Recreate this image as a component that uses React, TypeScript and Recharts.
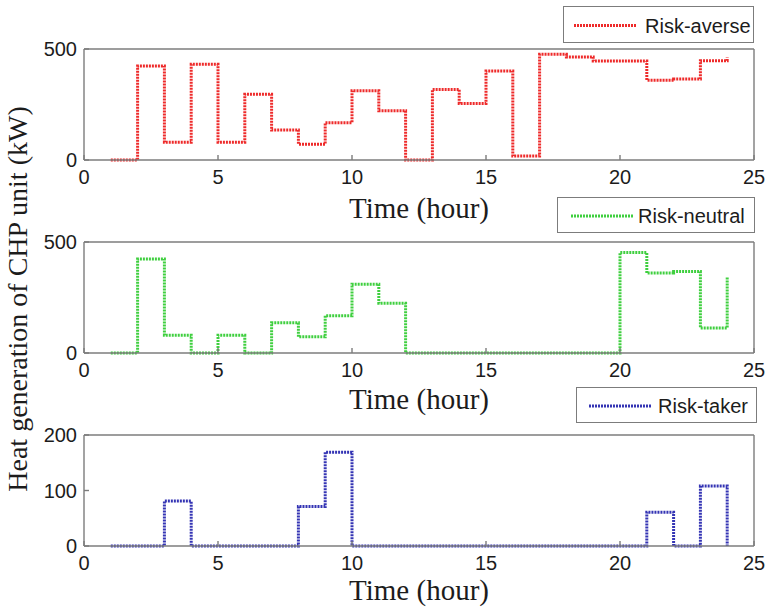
import React from 'react';
import { LineChart, Line, XAxis, YAxis, Legend } from 'recharts';

const hours = [1, 2, 3, 4, 5, 6, 7, 8, 9, 10, 11, 12, 13, 14, 15, 16, 17, 18, 19, 20, 21, 22, 23, 24];
const riskAverse = [0, 423, 80, 431, 80, 296, 135, 71, 168, 312, 222, 0, 318, 255, 401, 18, 476, 464, 446, 446, 359, 365, 447, 462];
const riskNeutral = [0, 423, 80, 0, 80, 0, 136, 73, 168, 310, 224, 0, 0, 0, 0, 0, 0, 0, 0, 453, 360, 367, 113, 344];
const riskTaker = [0, 0, 81, 0, 0, 0, 0, 71, 169, 0, 0, 0, 0, 0, 0, 0, 0, 0, 0, 0, 61, 0, 108, 0];

const xTicks = [0, 5, 10, 15, 20, 25];
const yTicksAverse = [0, 500];
const yTicksNeutral = [0, 500];
const yTicksTaker = [0, 100, 200];
const seriesNames = ['Risk-averse', 'Risk-neutral', 'Risk-taker'];
const seriesColors = ['#ee2a2a', '#3fcf3f', '#3434b4'];
const xTitle = 'Time (hour)';
const yTitle = 'Heat generation of CHP unit (kW)';

const SANS = '"Liberation Sans", Arial, sans-serif';
const SERIF = '"Liberation Serif", "Times New Roman", serif';
const AXIS = '#7c7c7c';
const TEXT = '#1c1c1c';
const DASH = '2 1';

type PanelProps = {
  top: number;
  height: number;
  plotTop: number;
  plotBottom: number;
  values: number[];
  name: string;
  color: string;
  yMax: number;
  yTicks: number[];
  legendBox: { left: number; top: number; width: number; height: number; lineStart: number; lineLen: number; textStart: number };
  titleOffset: number;
};

const PLOT_LEFT = 84;
const PLOT_RIGHT = 754;

function Panel(p: PanelProps) {
  const data = hours.map((t, i) => ({ t, v: p.values[i] }));
  const lb = p.legendBox;
  // axes are 1px thick so that they render; margins compensate
  const margin = {
    top: p.plotTop - 1,
    bottom: p.height - p.plotBottom - 1,
    left: PLOT_LEFT - 1,
    right: 769 - PLOT_RIGHT - 1,
  };
  const renderLegend = () => (
    <div
      style={{
        position: 'relative',
        width: lb.width,
        height: lb.height,
        boxSizing: 'border-box',
        border: `1.5px solid ${AXIS}`,
        background: '#fff',
      }}
    >
      <svg width={lb.width} height={lb.height} style={{ position: 'absolute', left: 0, top: 0 }}>
        <line
          x1={lb.lineStart}
          x2={lb.lineStart + lb.lineLen}
          y1={lb.height / 2}
          y2={lb.height / 2}
          stroke={p.color}
          strokeWidth={3}
          strokeDasharray={DASH}
        />
        <text
          x={lb.textStart}
          y={lb.height / 2}
          dominantBaseline="central"
          fontSize={20}
          fontFamily={SANS}
          fill={TEXT}
        >
          {p.name}
        </text>
      </svg>
    </div>
  );
  const tickStyle = { fontSize: 20, fill: TEXT, fontFamily: SANS };
  return (
    <div style={{ position: 'absolute', left: 0, top: p.top }}>
      <LineChart width={769} height={p.height} data={data} margin={margin}>
        <XAxis
          dataKey="t"
          type="number"
          domain={[0, 25]}
          ticks={xTicks}
          interval={0}
          height={1}
          tickSize={-5}
          tickMargin={15}
          tick={tickStyle}
          axisLine={{ stroke: AXIS, strokeWidth: 1.4 }}
          tickLine={{ stroke: AXIS, strokeWidth: 1.4 }}
          label={{
            value: xTitle,
            position: 'bottom',
            offset: p.titleOffset - 1,
            style: { fontSize: 29, fontFamily: SERIF, fill: TEXT },
          }}
        />
        <XAxis
          xAxisId="top"
          orientation="top"
          dataKey="t"
          type="number"
          domain={[0, 25]}
          ticks={xTicks}
          interval={0}
          height={1}
          tickSize={-5}
          tick={false}
          axisLine={{ stroke: AXIS, strokeWidth: 1.4 }}
          tickLine={{ stroke: AXIS, strokeWidth: 1.4 }}
        />
        <YAxis
          type="number"
          domain={[0, p.yMax]}
          ticks={p.yTicks}
          interval={0}
          width={1}
          tickSize={-5}
          tickMargin={12}
          tick={tickStyle}
          axisLine={{ stroke: AXIS, strokeWidth: 1.4 }}
          tickLine={{ stroke: AXIS, strokeWidth: 1.4 }}
        />
        <YAxis
          yAxisId="right"
          orientation="right"
          type="number"
          domain={[0, p.yMax]}
          ticks={p.yTicks}
          interval={0}
          width={1}
          tickSize={-5}
          tick={false}
          axisLine={{ stroke: AXIS, strokeWidth: 1.4 }}
          tickLine={{ stroke: AXIS, strokeWidth: 1.4 }}
        />
        <Legend
          layout="vertical"
          align="center"
          verticalAlign="middle"
          content={renderLegend}
          wrapperStyle={{ position: 'absolute', left: lb.left, top: lb.top, width: lb.width, height: lb.height }}
        />
        <Line
          type="stepAfter"
          dataKey="v"
          name={p.name}
          stroke={p.color}
          strokeWidth={3}
          strokeDasharray={DASH}
          dot={false}
          activeDot={false}
          isAnimationActive={false}
        />
      </LineChart>
    </div>
  );
}

export default function App() {
  return (
    <div style={{ position: 'absolute', left: 0, top: 0, width: 769, height: 612, background: '#fff', overflow: 'hidden' }}>
      <svg width={60} height={612} style={{ position: 'absolute', left: 0, top: 0 }}>
        <text
          x={27}
          y={299}
          transform="rotate(-90 27 299)"
          textAnchor="middle"
          fontSize={28}
          fontFamily={SERIF}
          fill={TEXT}
        >
          {yTitle}
        </text>
      </svg>
      <Panel
        top={0}
        height={235}
        plotTop={49}
        plotBottom={160}
        values={riskAverse}
        name={seriesNames[0]}
        color={seriesColors[0]}
        yMax={500}
        yTicks={yTicksAverse}
        legendBox={{ left: 563, top: 6, width: 191, height: 37, lineStart: 10, lineLen: 63, textStart: 81 }}
        titleOffset={37}
      />
      <Panel
        top={190}
        height={235}
        plotTop={52}
        plotBottom={163}
        values={riskNeutral}
        name={seriesNames[1]}
        color={seriesColors[1]}
        yMax={500}
        yTicks={yTicksNeutral}
        legendBox={{ left: 557, top: 7, width: 198, height: 36, lineStart: 13, lineLen: 62, textStart: 80 }}
        titleOffset={35}
      />
      <Panel
        top={380}
        height={232}
        plotTop={55}
        plotBottom={166}
        values={riskTaker}
        name={seriesNames[2]}
        color={seriesColors[2]}
        yMax={200}
        yTicks={yTicksTaker}
        legendBox={{ left: 576, top: 7, width: 181, height: 36, lineStart: 12, lineLen: 62, textStart: 81 }}
        titleOffset={33}
      />
    </div>
  );
}
